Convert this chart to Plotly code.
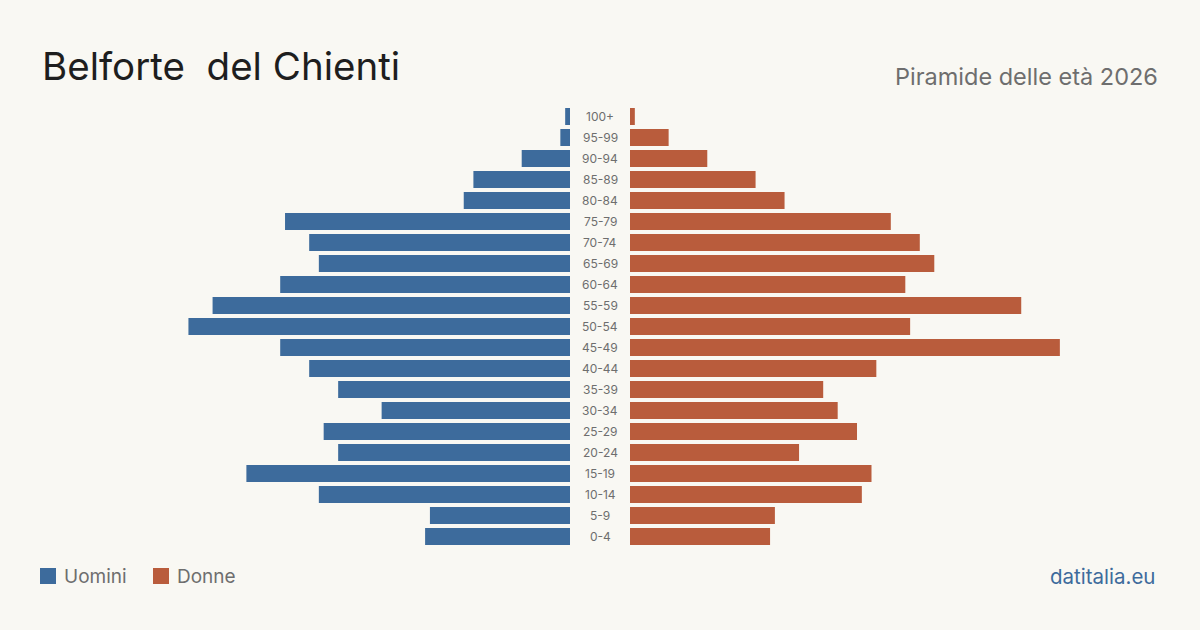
import plotly.graph_objects as go

ages = ["0-4", "5-9", "10-14", "15-19", "20-24", "25-29", "30-34", "35-39", "40-44",
        "45-49", "50-54", "55-59", "60-64", "65-69", "70-74", "75-79", "80-84",
        "85-89", "90-94", "95-99", "100+"]
men = [30, 29, 52, 67, 48, 51, 39, 48, 54, 60, 79, 74, 60, 52, 54, 59, 22, 20, 10, 2, 1]
women = [29, 30, 48, 50, 35, 47, 43, 40, 51, 89, 58, 81, 57, 63, 60, 54, 32, 26, 16, 8, 1]

title = "Belforte\u00a0 del Chienti"
subtitle = "Piramide delle età 2026"
legend_labels = ["Uomini", "Donne"]
source = "datitalia.eu"

BLUE = "#3D6B9C"
ORANGE = "#B95C3C"
BG = "#F9F8F3"
W, H = 1200, 630
scale_max = 570 / 4.83

fig = go.Figure()
fig.add_trace(go.Bar(x=men, y=ages, orientation="h", marker_color=BLUE,
                     marker_line_width=0, xaxis="x", yaxis="y", name=legend_labels[0],
                     hoverinfo="x+y"))
fig.add_trace(go.Bar(x=women, y=ages, orientation="h", marker_color=ORANGE,
                     marker_line_width=0, xaxis="x2", yaxis="y", name=legend_labels[1],
                     hoverinfo="x+y"))

for a in ages:
    fig.add_annotation(x=600 / W, xref="paper", y=a, yref="y", text=a, showarrow=False,
                       xanchor="center", yanchor="middle",
                       font=dict(family="Inter", size=12, color="#6E6E6E"))

fig.add_annotation(x=40 / W, y=1 - 66 / H, xref="paper", yref="paper", text=title,
                   showarrow=False, xanchor="left", yanchor="middle",
                   font=dict(family="Inter", size=38.5, color="#1E1E1E"))
fig.add_annotation(x=1160 / W, y=1 - 76 / H, xref="paper", yref="paper", text=subtitle,
                   showarrow=False, xanchor="right", yanchor="middle",
                   font=dict(family="Inter", size=23.5, color="#6E6E6E"))
fig.add_annotation(x=1157 / W, y=1 - 576 / H, xref="paper", yref="paper", text=source,
                   showarrow=False, xanchor="right", yanchor="middle",
                   font=dict(family="Inter", size=20.5, color=BLUE))

# legend
for i, (lab, col) in enumerate(zip(legend_labels, [BLUE, ORANGE])):
    x0 = [40, 153][i]
    fig.add_shape(type="rect", xref="paper", yref="paper",
                  x0=x0 / W, x1=(x0 + 16) / W, y0=1 - 584 / H, y1=1 - 568 / H,
                  fillcolor=col, line_width=0)
    fig.add_annotation(x=(x0 + 22) / W, y=1 - 576 / H, xref="paper", yref="paper", text=lab,
                       showarrow=False, xanchor="left", yanchor="middle",
                       font=dict(family="Inter", size=19, color="#6E6E6E"))

fig.update_layout(
    width=W, height=H, margin=dict(l=0, r=0, t=0, b=0),
    paper_bgcolor=BG, plot_bgcolor=BG, showlegend=False, bargap=0.19,
    xaxis=dict(domain=[0, 570 / W], range=[scale_max, 0], visible=False, fixedrange=True),
    xaxis2=dict(domain=[630 / W, 1], range=[0, scale_max], visible=False, fixedrange=True),
    yaxis=dict(domain=[1 - 547 / H, 1 - 106 / H], categoryorder="array", categoryarray=ages,
               visible=False, fixedrange=True),
)

fig.write_html("out.html")
